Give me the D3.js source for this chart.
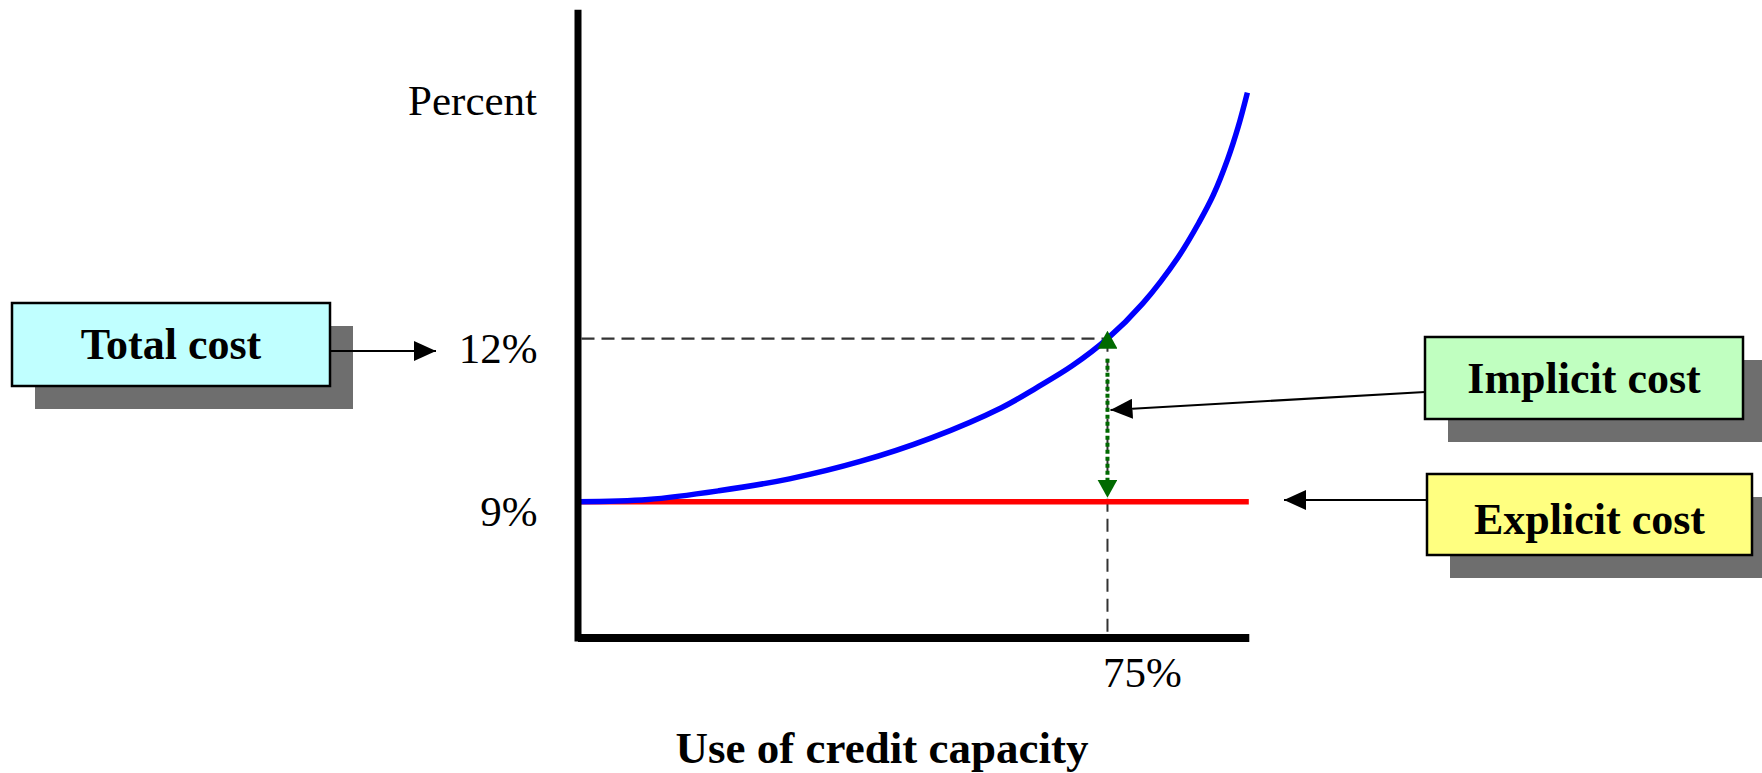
<!DOCTYPE html>
<html>
<head>
<meta charset="utf-8">
<script src="https://cdn.jsdelivr.net/npm/d3@7"></script>
<style>
  html, body { margin: 0; padding: 0; background: #fff; }
  svg { display: block; }
  text { font-family: "Liberation Serif", "Times New Roman", serif; fill: #000; }
</style>
</head>
<body>
<svg id="chart" width="1762" height="773"></svg>
<script>
// ---- data ----
const usage      = [0, 10, 20, 30, 40, 50, 60, 65, 70, 75, 80, 85, 88, 90, 92, 93.5, 94.8];          // % of credit capacity
const totalCost  = [9, 9.04, 9.2, 9.42, 9.74, 10.17, 10.73, 11.1, 11.5, 12, 12.65, 13.5, 14.15, 14.65, 15.3, 15.9, 16.53]; // %
const explicitCost = 9;          // %
const markedUsage = 75;          // %
const markedTotal = 12;          // %
const yTickValues = [9, 12];
const xTickValues = [75];
const yAxisTitle = "Percent";
const xAxisTitle = "Use of credit capacity";
const boxLabels = ["Total cost", "Implicit cost", "Explicit cost"];

// ---- layout ----
const svg = d3.select("#chart");
const x = d3.scaleLinear().domain([0, 95]).range([577.5, 1248.8]);
const y = d3.scaleLinear().domain([6.5, 18]).range([637.5, 12.7]);
const serif = '"Liberation Serif", "Times New Roman", serif';

// markers
const defs = svg.append("defs");
function marker(id, color, len, half) {
  defs.append("marker")
    .attr("id", id)
    .attr("markerUnits", "userSpaceOnUse")
    .attr("viewBox", `0 ${-half} ${len} ${2 * half}`)
    .attr("refX", len).attr("refY", 0)
    .attr("markerWidth", len).attr("markerHeight", 2 * half)
    .attr("orient", "auto")
    .append("path")
    .attr("d", `M0,${-half}L${len},0L0,${half}Z`)
    .attr("fill", color);
}
marker("arrowBlack", "#000", 22, 10);
marker("arrowGreen", "#006a00", 18, 10);

// guide dashed lines
svg.append("line")
  .attr("x1", x(0) + 4).attr("x2", x(markedUsage))
  .attr("y1", y(markedTotal)).attr("y2", y(markedTotal))
  .attr("stroke", "#333").attr("stroke-width", 2.2).attr("stroke-dasharray", "13,7");
svg.append("line")
  .attr("x1", x(markedUsage)).attr("x2", x(markedUsage))
  .attr("y1", y(markedTotal)).attr("y2", y.range()[0])
  .attr("stroke", "#333").attr("stroke-width", 2).attr("stroke-dasharray", "13,7");

// explicit cost line
svg.append("line")
  .attr("x1", x(0)).attr("x2", x(95))
  .attr("y1", y(explicitCost)).attr("y2", y(explicitCost))
  .attr("stroke", "#ff0000").attr("stroke-width", 5.5);

// total cost curve
const pts = usage.map((u, i) => [u, totalCost[i]]);
svg.append("path")
  .datum(pts)
  .attr("d", d3.line().x(d => x(d[0])).y(d => y(d[1])).curve(d3.curveCatmullRom.alpha(0.5)))
  .attr("fill", "none").attr("stroke", "#0000ff").attr("stroke-width", 5.5);

// implicit cost double arrow (green dotted)
svg.append("line")
  .attr("x1", x(markedUsage)).attr("x2", x(markedUsage))
  .attr("y1", y(markedTotal) + 20).attr("y2", y(explicitCost) - 20)
  .attr("stroke", "#006a00").attr("stroke-width", 4).attr("stroke-dasharray", "4,3");
svg.append("line")
  .attr("x1", x(markedUsage)).attr("x2", x(markedUsage))
  .attr("y1", y(markedTotal) + 25).attr("y2", y(markedTotal) - 8)
  .attr("stroke", "none").attr("marker-end", "url(#arrowGreen)");
svg.append("line")
  .attr("x1", x(markedUsage)).attr("x2", x(markedUsage))
  .attr("y1", y(explicitCost) - 25).attr("y2", y(explicitCost) - 4)
  .attr("stroke", "none").attr("marker-end", "url(#arrowGreen)");

// axes
const yAxis = d3.axisLeft(y).tickValues(yTickValues).tickSize(0).tickSizeOuter(0)
  .tickPadding(40).tickFormat(d => d + "%");
const gy = svg.append("g").attr("transform", `translate(${x(0)},0)`).call(yAxis);
gy.select(".domain").attr("stroke", "#000").attr("stroke-width", 7).attr("stroke-linecap", "square");
gy.selectAll(".tick text").attr("font-family", serif).attr("font-size", 43).attr("dy", "0.55em").attr("fill", "#000");

const xAxis = d3.axisBottom(x).tickValues(xTickValues).tickSize(0).tickSizeOuter(0)
  .tickPadding(0).tickFormat(d => d + "%");
const gx = svg.append("g").attr("transform", `translate(0,${y.range()[0]})`).call(xAxis);
gx.select(".domain").attr("stroke", "#000").attr("stroke-width", 8);
gx.selectAll(".tick text").attr("font-family", serif).attr("font-size", 43)
  .attr("text-anchor", "start").attr("dx", -5).attr("dy", 0).attr("y", 49.5).attr("fill", "#000");

// axis titles
svg.append("text").attr("x", 537).attr("y", 115).attr("text-anchor", "end")
  .attr("font-size", 43).text(yAxisTitle);
svg.append("text").attr("x", 882).attr("y", 763).attr("text-anchor", "middle")
  .attr("font-size", 45).attr("font-weight", "bold").text(xAxisTitle);

// annotation boxes
const boxes = [
  { label: boxLabels[0], x: 12,   y: 303, w: 318, h: 83, fill: "#c0ffff", base: 359 },
  { label: boxLabels[1], x: 1425, y: 337, w: 318, h: 82, fill: "#c0ffc0", base: 393 },
  { label: boxLabels[2], x: 1427, y: 474, w: 325, h: 81, fill: "#ffff80", base: 534 }
];
const gb = svg.selectAll("g.box").data(boxes).join("g").attr("class", "box");
gb.append("rect").attr("x", d => d.x + 23).attr("y", d => d.y + 23)
  .attr("width", d => d.w).attr("height", d => d.h).attr("fill", "#6e6e6e");
gb.append("rect").attr("x", d => d.x).attr("y", d => d.y)
  .attr("width", d => d.w).attr("height", d => d.h)
  .attr("fill", d => d.fill).attr("stroke", "#000").attr("stroke-width", 2.5);
gb.append("text").attr("x", d => d.x + d.w / 2).attr("y", d => d.base)
  .attr("text-anchor", "middle").attr("font-size", 44).attr("font-weight", "bold")
  .text(d => d.label);

// connector arrows
svg.append("line").attr("x1", 331).attr("y1", 351).attr("x2", 436).attr("y2", 351)
  .attr("stroke", "#000").attr("stroke-width", 2.2).attr("marker-end", "url(#arrowBlack)");
svg.append("line").attr("x1", 1425).attr("y1", 392).attr("x2", x(markedUsage) + 3).attr("y2", 410)
  .attr("stroke", "#000").attr("stroke-width", 2.2).attr("marker-end", "url(#arrowBlack)");
svg.append("line").attr("x1", 1427).attr("y1", 500).attr("x2", 1284).attr("y2", 500)
  .attr("stroke", "#000").attr("stroke-width", 2.2).attr("marker-end", "url(#arrowBlack)");
</script>
</body>
</html>
